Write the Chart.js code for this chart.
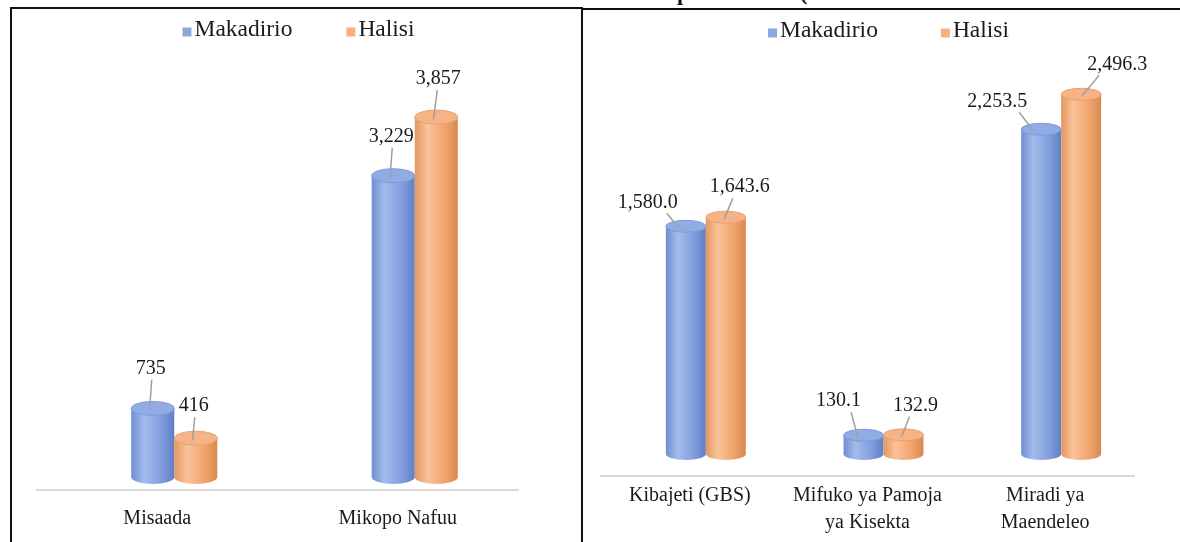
<!DOCTYPE html>
<html>
<head>
<meta charset="utf-8">
<script src="https://cdn.jsdelivr.net/npm/chart.js@4.4.1/dist/chart.umd.min.js"></script>
<style>
html,body{margin:0;padding:0;background:#fff;width:1180px;height:542px;overflow:hidden;position:relative;}
#frameL{position:absolute;left:10px;top:7px;width:573px;height:600px;border-left:2px solid #111;border-top:2px solid #111;border-right:2px solid #111;box-sizing:border-box;}
#frameR{position:absolute;left:581px;top:8px;width:700px;height:600px;border-left:2px solid #111;border-top:2px solid #111;box-sizing:border-box;}
#titleClip{position:absolute;left:600px;top:0;width:230px;height:7px;overflow:hidden;}
#titleClip span{position:absolute;left:-88px;top:-18px;white-space:nowrap;font:bold 22px/22px "Liberation Serif",serif;color:#111;}
#cL{position:absolute;left:12px;top:9px;}
#cR{position:absolute;left:583px;top:10px;}
</style>
</head>
<body>
<div id="titleClip"><span>Misaada na Mikopo kwa Nchi (Shilingi Bilioni)</span></div>
<div id="frameL"></div>
<div id="frameR"></div>
<canvas id="cL" width="569" height="545"></canvas>
<canvas id="cR" width="597" height="545"></canvas>
<script>
// ---- data ----
const seriesNames = ['Makadirio', 'Halisi'];
const leftCategories = ['Misaada', 'Mikopo Nafuu'];
const leftMakadirio = [735, 3229];
const leftHalisi = [416, 3857];
const rightCategories = [['Kibajeti (GBS)'], ['Mifuko ya Pamoja', 'ya Kisekta'], ['Miradi ya', 'Maendeleo']];
const rightMakadirio = [1580.0, 130.1, 2253.5];
const rightHalisi = [1643.6, 132.9, 2496.3];

// ---- styles ----
const FONT = '"Liberation Serif", "Times New Roman", serif';
const TEXT = '#1a1a1a';
const legendColors = ['#8EA9E0', '#F5B183'];
const palettes = [
  {stops: ['#6F8ED2', '#A4BCEC', '#809DDD', '#5F7FC6'], top: '#91ACE4', topEdge: '#7D9AD9'},
  {stops: ['#E2975F', '#FAC39A', '#F1A46D', '#D7894F'], top: '#F6B385', topEdge: '#E8A070'}
];
const leftLabelOffsets = [[[-2, -40], [-2, -39]], [[-2, -32], [2, -38]]];
const rightLabelOffsets = [[[-38, -24], [-25, -34], [-44, -28]], [[14, -30], [12, -29], [36, -30]]];

const cylinderPlugin = {
  id: 'cyl',
  afterDatasetsDraw(chart, args, o) {
    const ctx = chart.ctx;
    const n = chart.data.labels.length;
    for (let i = 0; i < n; i++) {
      chart.data.datasets.forEach((ds, di) => {
        const bar = chart.getDatasetMeta(di).data[i];
        const p = bar.getProps(['x', 'y', 'base', 'width'], true);
        const pal = palettes[di];
        const cx = p.x + o.dx, rx = p.width / 2, ry = o.ry;
        const l = cx - rx, r = cx + rx;
        ctx.save();
        const g = ctx.createLinearGradient(l, 0, r, 0);
        g.addColorStop(0, pal.stops[0]);
        g.addColorStop(0.3, pal.stops[1]);
        g.addColorStop(0.7, pal.stops[2]);
        g.addColorStop(1, pal.stops[3]);
        ctx.beginPath();
        ctx.moveTo(l, p.y);
        ctx.lineTo(l, p.base);
        ctx.ellipse(cx, p.base, rx, ry, 0, Math.PI, 0, true);
        ctx.lineTo(r, p.y);
        ctx.closePath();
        ctx.fillStyle = g;
        ctx.fill();
        ctx.beginPath();
        ctx.ellipse(cx, p.y, rx, ry, 0, 0, Math.PI * 2);
        ctx.fillStyle = pal.top;
        ctx.fill();
        ctx.lineWidth = 1;
        ctx.strokeStyle = pal.topEdge;
        ctx.stroke();
        ctx.restore();
      });
    }
  }
};

const labelPlugin = {
  id: 'dlab',
  afterDatasetsDraw(chart, args, o) {
    const ctx = chart.ctx;
    ctx.save();
    ctx.font = o.size + 'px ' + FONT;
    ctx.textAlign = 'center';
    ctx.textBaseline = 'middle';
    chart.data.datasets.forEach((ds, di) => {
      chart.getDatasetMeta(di).data.forEach((bar, i) => {
        const p = bar.getProps(['x', 'y'], true);
        const cx = p.x + o.dx;
        const off = o.offsets[di][i];
        const lx = cx + off[0], ly = p.y + off[1];
        ctx.strokeStyle = '#A0A0A0';
        ctx.lineWidth = 1.5;
        ctx.beginPath();
        ctx.moveTo(lx + (cx - lx) * 0.5, ly + 11);
        ctx.lineTo(cx - (cx - lx) * 0.1 - 3, p.y + 2);
        ctx.stroke();
        ctx.fillStyle = TEXT;
        ctx.fillText(o.fmt(ds.data[i]), lx, ly);
      });
    });
    ctx.restore();
  }
};

const legendPlugin = {
  id: 'slegend',
  afterDraw(chart, args, o) {
    const ctx = chart.ctx;
    ctx.save();
    ctx.font = o.size + 'px ' + FONT;
    const items = chart.data.datasets.map((ds, i) => ({text: ds.label, color: legendColors[i]}));
    const widths = items.map(it => o.box + o.gap + ctx.measureText(it.text).width);
    const total = widths.reduce((a, b) => a + b, 0) + o.spacing * (items.length - 1);
    let x = chart.width / 2 - total / 2 + o.shift;
    items.forEach((it, i) => {
      ctx.fillStyle = it.color;
      ctx.fillRect(x, o.y - o.box / 2 + 2, o.box, o.box);
      ctx.fillStyle = TEXT;
      ctx.textAlign = 'left';
      ctx.textBaseline = 'middle';
      ctx.fillText(it.text, x + o.box + o.gap, o.y);
      x += widths[i] + o.spacing;
    });
    ctx.restore();
  }
};

function makeChart(id, cats, a, b, cfg) {
  return new Chart(document.getElementById(id), {
    type: 'bar',
    data: {
      labels: cats,
      datasets: [
        {label: seriesNames[0], data: a, backgroundColor: 'rgba(0,0,0,0)', borderWidth: 0, categoryPercentage: cfg.catPct, barPercentage: 1},
        {label: seriesNames[1], data: b, backgroundColor: 'rgba(0,0,0,0)', borderWidth: 0, categoryPercentage: cfg.catPct, barPercentage: 1}
      ]
    },
    options: {
      responsive: false,
      animation: false,
      devicePixelRatio: 1,
      layout: {padding: cfg.padding},
      plugins: {
        legend: {display: false},
        tooltip: {enabled: false},
        cyl: {dx: cfg.dx, ry: cfg.ry},
        dlab: {dx: cfg.dx, size: 20, offsets: cfg.offsets, fmt: cfg.fmt},
        slegend: {size: 23.5, box: 9, gap: 3, spacing: cfg.legendSpacing, y: 21, shift: cfg.legendShift}
      },
      scales: {
        x: {
          grid: {display: false, drawTicks: false},
          border: {display: true, color: '#D9D9D9', width: 2},
          ticks: {font: {family: FONT, size: 20, lineHeight: cfg.lineH}, color: TEXT, padding: cfg.tickPad, maxRotation: 0, autoSkip: false},
          afterFit(scale) { scale.height = cfg.axisH; }
        },
        y: {display: false, min: cfg.min, max: cfg.max}
      }
    },
    plugins: [cylinderPlugin, labelPlugin, legendPlugin]
  });
}

makeChart('cL', leftCategories, leftMakadirio, leftHalisi, {
  catPct: 0.358, dx: 17, ry: 7, min: -139, max: 4500,
  padding: {left: 25, right: 63, top: 48.1, bottom: 21},
  axisH: 43, tickPad: 14, lineH: 1.45, legendShift: 2, legendSpacing: 54, offsets: leftLabelOffsets,
  fmt: v => v.toLocaleString('en-US')
});
makeChart('cR', rightCategories, rightMakadirio, rightHalisi, {
  catPct: 0.45, dx: 16, ry: 6, min: -152.7, max: 2800,
  padding: {left: 18, right: 46, top: 40.5, bottom: 19},
  axisH: 60, tickPad: 6.5, lineH: 1.35, legendShift: 7, legendSpacing: 63, offsets: rightLabelOffsets,
  fmt: v => v.toLocaleString('en-US', {minimumFractionDigits: 1, maximumFractionDigits: 1})
});
</script>
</body>
</html>
